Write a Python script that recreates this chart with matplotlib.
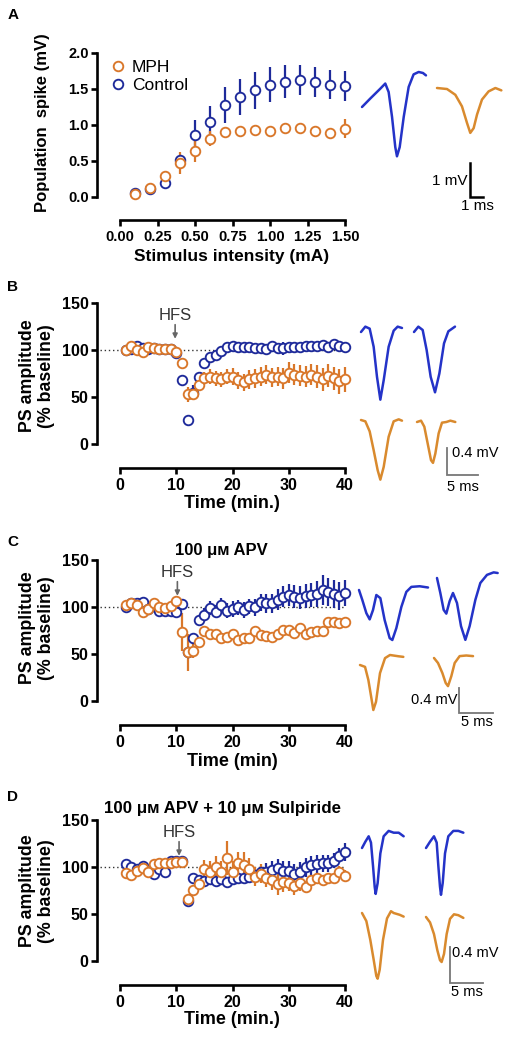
import numpy as np
import matplotlib
matplotlib.use('Agg')
import matplotlib.pyplot as plt
from matplotlib.lines import Line2D

plt.rcParams['font.family'] = ['Liberation Sans', 'DejaVu Sans']

W, H = 511, 1040
ORANGE = '#D9772A'
NAVY = '#1E2A9A'
TR_BLUE = '#2433C8'
TR_ORANGE = '#D98A2E'

# ---- panel A: input/output curve ----
intensity = [0.1, 0.2, 0.3, 0.4, 0.5, 0.6, 0.7, 0.8, 0.9, 1.0, 1.1, 1.2, 1.3, 1.4, 1.5]
a_mph = [0.04, 0.12, 0.29, 0.47, 0.64, 0.81, 0.90, 0.92, 0.93, 0.91, 0.96, 0.96, 0.92, 0.89, 0.95]
a_mph_err = [0.03, 0.03, 0.06, 0.15, 0.15, 0.10, 0.07, 0.04, 0.04, 0.03, 0.04, 0.04, 0.06, 0.07, 0.13]
a_ctl = [0.05, 0.11, 0.19, 0.52, 0.86, 1.04, 1.28, 1.39, 1.48, 1.56, 1.60, 1.63, 1.60, 1.56, 1.54]
a_ctl_err = [0.02, 0.02, 0.02, 0.05, 0.21, 0.22, 0.25, 0.25, 0.26, 0.24, 0.23, 0.21, 0.21, 0.20, 0.21]

# ---- panels B-D: time courses ----
time_min = list(range(1, 41))

b_ctl = [100, 101, 104, 102, 101, 102, 101, 101, 101, 97, 68, 26, 55, 72, 86, 93, 95, 99, 103, 104,
         103, 103, 103, 102, 102, 101, 104, 102, 102, 103, 103, 103, 104, 104, 104, 105, 103, 107, 104, 103]
b_ctl_err = [2, 2, 2, 2, 2, 2, 2, 2, 2, 2, 3, 2, 8, 4, 4, 5, 5, 5, 3, 3,
             3, 3, 3, 3, 3, 3, 3, 3, 7, 3, 3, 3, 3, 3, 3, 3, 3, 3, 3, 3]
b_mph = [100, 104, 100, 98, 103, 102, 101, 101, 101, 98, 86, 53, 54, 63, 70, 72, 70, 69, 72, 72,
         68, 66, 69, 70, 72, 74, 71, 72, 70, 76, 74, 73, 72, 74, 72, 69, 73, 70, 67, 69]
b_mph_err = [2, 2, 2, 2, 2, 2, 2, 2, 2, 2, 5, 8, 6, 6, 7, 8, 8, 8, 8, 9,
             9, 9, 10, 10, 10, 10, 10, 10, 11, 11, 11, 11, 11, 11, 12, 12, 12, 12, 13, 13]

c_ctl = [100, 104, 104, 105, 98, 101, 96, 96, 96, 95, 103, 52, 67, 86, 92, 99, 95, 102, 96, 98,
         100, 97, 101, 100, 105, 104, 104, 108, 111, 113, 111, 110, 112, 113, 114, 118, 116, 114, 112, 115]
c_ctl_err = [2, 2, 2, 2, 2, 2, 2, 2, 2, 2, 3, 3, 3, 5, 7, 7, 7, 8, 8, 8,
             8, 8, 8, 9, 9, 10, 10, 11, 11, 12, 12, 12, 13, 13, 14, 16, 15, 15, 15, 14]
c_mph = [102, 104, 102, 95, 98, 104, 100, 99, 101, 106, 74, 52, 54, 63, 75, 72, 71, 67, 68, 72,
         65, 67, 67, 75, 70, 69, 68, 71, 76, 76, 73, 78, 72, 74, 75, 75, 84, 84, 83, 84]
c_mph_err = [2, 2, 2, 2, 2, 2, 2, 2, 2, 2, 20, 20, 8, 3, 3, 4, 4, 6, 4, 4,
             3, 3, 3, 3, 3, 3, 3, 3, 3, 3, 3, 3, 3, 3, 3, 3, 3, 3, 3, 3]

d_ctl = [103, 100, 98, 101, 97, 93, 98, 95, 106, 106, 106, 64, 88, 86, 85, 87, 85, 87, 84, 87,
         88, 88, 90, 92, 95, 95, 97, 99, 96, 96, 93, 95, 100, 102, 103, 104, 104, 107, 112, 116]
d_ctl_err = [2, 2, 2, 2, 2, 2, 2, 2, 2, 2, 2, 3, 3, 4, 5, 5, 5, 5, 5, 6,
             6, 6, 6, 6, 6, 9, 9, 10, 10, 10, 10, 10, 10, 10, 10, 9, 9, 8, 8, 10]
d_mph = [94, 92, 96, 99, 95, 103, 104, 104, 104, 105, 105, 66, 76, 82, 98, 95, 100, 95, 110, 95,
         104, 102, 98, 90, 93, 89, 86, 82, 84, 83, 80, 83, 79, 86, 88, 86, 88, 88, 95, 91]
d_mph_err = [2, 2, 2, 2, 2, 2, 2, 2, 2, 2, 2, 3, 4, 5, 10, 12, 12, 12, 18, 12,
             12, 14, 12, 10, 10, 10, 10, 12, 10, 8, 10, 8, 6, 6, 6, 6, 6, 6, 6, 6]

# ---- example traces (ms, mV relative to trace start) ----
a_tr_ctl_t = [0, 0.64, 1.41, 1.79, 2.05, 2.31, 2.56, 2.69, 2.90, 3.21, 3.59, 3.97, 4.36, 4.69, 4.92]
a_tr_ctl_v = [0, 0.25, 0.54, 0.69, 0.44, -0.29, -1.18, -1.45, -1.18, -0.29, 0.59, 0.96, 1.03, 1.00, 0.93]
a_tr_mph_t = [0, 0.77, 1.41, 1.92, 2.31, 2.56, 2.82, 3.08, 3.46, 3.97, 4.49, 4.95]
a_tr_mph_v = [0, -0.03, -0.20, -0.54, -1.03, -1.32, -1.18, -0.78, -0.34, -0.10, 0, -0.07]

b_tr_ctl1_t = [0, 0.70, 1.40, 2.04, 2.58, 3.12, 3.66, 4.46, 5.27, 5.91, 6.61]
b_tr_ctl1_v = [0, 0.08, 0.05, -0.22, -0.67, -1.01, -0.72, -0.22, 0.02, 0.08, 0.06]
b_tr_ctl2_t = [0, 0.70, 1.40, 2.04, 2.69, 3.39, 4.09, 4.84, 5.54, 6.61]
b_tr_ctl2_v = [0, 0.08, 0.03, -0.27, -0.67, -0.90, -0.62, -0.17, 0.01, 0.08]
b_tr_mph1_t = [0, 0.70, 1.40, 2.04, 2.69, 3.12, 3.66, 4.46, 5.27, 6.08, 6.61]
b_tr_mph1_v = [0, -0.02, -0.17, -0.45, -0.75, -0.89, -0.70, -0.25, -0.02, 0.01, -0.01]
b_tr_mph2_t = [0, 0.65, 1.18, 1.72, 2.26, 2.58, 2.96, 3.49, 4.03, 4.73, 5.38, 6.18]
b_tr_mph2_v = [0, 0.02, -0.07, -0.32, -0.57, -0.61, -0.47, -0.17, -0.01, 0, 0.02, 0]

c_tr_ctl1_t = [0, 0.49, 1.08, 1.57, 2.06, 2.55, 3.14, 3.77, 4.51, 4.90, 5.49, 6.23, 6.96, 7.70, 8.92, 10.15]
c_tr_ctl1_v = [0, -0.16, -0.37, -0.47, -0.32, -0.08, -0.13, -0.48, -0.77, -0.80, -0.61, -0.27, -0.03, 0.05, 0.06, 0.04]
c_tr_ctl2_t = [0, 0.49, 0.98, 1.37, 1.86, 2.35, 2.94, 3.53, 4.17, 4.80, 5.64, 6.37, 7.35, 8.33, 8.92]
c_tr_ctl2_v = [0, -0.24, -0.51, -0.57, -0.37, -0.24, -0.40, -0.77, -0.99, -0.77, -0.35, -0.08, 0.05, 0.09, 0.08]
c_tr_mph1_t = [0, 0.74, 1.23, 1.72, 1.96, 2.35, 2.94, 3.68, 4.41, 5.64, 6.37]
c_tr_mph1_v = [0, -0.03, -0.24, -0.56, -0.72, -0.59, -0.13, 0.11, 0.16, 0.14, 0.13]
c_tr_mph2_t = [0, 0.59, 1.23, 1.72, 2.06, 2.55, 3.04, 3.77, 4.75, 5.74]
c_tr_mph2_v = [0, -0.08, -0.24, -0.40, -0.45, -0.29, -0.08, 0.03, 0.04, 0.03]

d_tr_ctl1_t = [0, 0.51, 1.01, 1.36, 1.67, 1.92, 2.07, 2.37, 2.78, 3.28, 4.04, 4.80, 5.56, 6.31]
d_tr_ctl1_v = [0, 0.07, 0.13, 0.06, -0.20, -0.43, -0.51, -0.39, -0.06, 0.13, 0.19, 0.17, 0.17, 0.13]
d_tr_ctl2_t = [0, 0.61, 1.21, 1.62, 1.87, 2.12, 2.27, 2.53, 2.88, 3.38, 4.14, 4.90, 5.66]
d_tr_ctl2_v = [0, 0.07, 0.13, 0.06, -0.20, -0.43, -0.52, -0.39, -0.06, 0.13, 0.19, 0.19, 0.17]
d_tr_mph1_t = [0, 0.66, 1.26, 1.77, 2.17, 2.37, 2.68, 3.18, 3.79, 4.39, 4.80, 5.71, 6.31]
d_tr_mph1_v = [0, -0.09, -0.30, -0.52, -0.70, -0.73, -0.63, -0.30, -0.06, 0.02, 0, -0.02, -0.04]
d_tr_mph2_t = [0, 0.61, 1.21, 1.72, 2.12, 2.37, 2.73, 3.13, 3.64, 4.24, 4.90, 5.66]
d_tr_mph2_v = [0, -0.06, -0.19, -0.37, -0.48, -0.50, -0.41, -0.19, -0.02, 0.03, 0.02, -0.01]


fig = plt.figure(figsize=(W / 100, H / 100), dpi=100)


def fx(px):
    return px / W


def fy(py):
    return 1 - py / H


def px_axes(left, top, right, bottom):
    return fig.add_axes([left / W, 1 - bottom / H, (right - left) / W, (bottom - top) / H])


def style(ax, size):
    for s in ['top', 'right']:
        ax.spines[s].set_visible(False)
    for s in ['left', 'bottom']:
        ax.spines[s].set_linewidth(1.9)
    ax.tick_params(width=1.9, length=4, labelsize=size)
    ax.tick_params(axis='y', pad=2)
    ax.tick_params(axis='x', pad=3)


def bold_ticks(ax):
    for lbl in ax.get_xticklabels() + ax.get_yticklabels():
        lbl.set_fontweight('bold')


def eb(ax, x, y, err, color):
    ax.errorbar(x, y, yerr=err, fmt='o', ms=6.9, mfc='white', mec=color, mew=1.35,
                ecolor=color, elinewidth=1.6, capsize=0, clip_on=False)


# ---- panel A ----
axA = px_axes(97, 53, 352, 220)
style(axA, 10.5)
axA.set_xlim(-23 / 150, 232 / 150)
axA.set_ylim(2.0 - 167 / 72, 2.0)
axA.spines['left'].set_bounds(0, 2)
axA.spines['bottom'].set_bounds(0, 1.5)
axA.set_yticks([0, 0.5, 1.0, 1.5, 2.0])
axA.set_yticklabels(['0.0', '0.5', '1.0', '1.5', '2.0'])
axA.set_xticks([0, 0.25, 0.5, 0.75, 1.0, 1.25, 1.5])
axA.set_xticklabels(['0.00', '0.25', '0.50', '0.75', '1.00', '1.25', '1.50'])
bold_ticks(axA)
eb(axA, intensity, a_ctl, a_ctl_err, NAVY)
eb(axA, intensity, a_mph, a_mph_err, ORANGE)
handles = [Line2D([], [], ls='none', marker='o', ms=6.9, mfc='white', mec=ORANGE, mew=1.35),
           Line2D([], [], ls='none', marker='o', ms=6.9, mfc='white', mec=NAVY, mew=1.35)]
axA.legend(handles, ['MPH', 'Control'], loc='upper left', bbox_to_anchor=(0.0, 1.02),
           frameon=False, fontsize=12.5, handletextpad=0.2, handlelength=1.2,
           borderaxespad=0.2, labelspacing=0.15)

# ---- panels B-D ----
time_panels = [
    (303, b_ctl, b_ctl_err, b_mph, b_mph_err, 9.8),
    (560, c_ctl, c_ctl_err, c_mph, c_mph_err, 10.2),
    (820, d_ctl, d_ctl_err, d_mph, d_mph_err, 10.5),
]
for top, ctl, ctl_err, mph, mph_err, hfs_x in time_panels:
    ax = px_axes(97, top, 352, top + 165)
    style(ax, 11.5)
    ax.set_xlim(-23 / 5.625, 232 / 5.625)
    ax.set_ylim(-25, 150)
    ax.spines['left'].set_bounds(0, 150)
    ax.spines['bottom'].set_bounds(0, 40)
    ax.set_yticks([0, 50, 100, 150])
    ax.set_xticks([0, 10, 20, 30, 40])
    bold_ticks(ax)
    ax.plot([-3.5, 40], [100, 100], ls=(0, (1, 2)), color='#333333', lw=1, zorder=0)
    eb(ax, time_min, ctl, ctl_err, NAVY)
    eb(ax, time_min, mph, mph_err, ORANGE)
    ax.annotate('', xy=(hfs_x, 112), xytext=(hfs_x, 127),
                arrowprops=dict(arrowstyle='-|>', color='#666666', lw=1.2, mutation_scale=7,
                                shrinkA=0, shrinkB=0))
    ax.text(hfs_x, 137, 'HFS', ha='center', va='center', fontsize=12, color='#333333')

# ---- axis labels, titles, panel letters ----
fig.text(fx(43), fy(123), 'Population  spike (mV)', rotation=90, ha='center', va='center',
         fontsize=12, fontweight='bold')
for yc in [376, 628, 891]:
    fig.text(fx(37), fy(yc), 'PS amplitude\n(% baseline)', rotation=90, ha='center',
             va='center', fontsize=12.8, fontweight='bold', linespacing=1.1)
fig.text(fx(232), fy(257), 'Stimulus intensity (mA)', ha='center', va='center',
         fontsize=12.5, fontweight='bold')
for yc, lab in [(503, 'Time (min.)'), (762, 'Time (min)'), (1020, 'Time (min.)')]:
    fig.text(fx(232), fy(yc), lab, ha='center', va='center', fontsize=13, fontweight='bold')
fig.text(fx(221), fy(551), '100 μᴍ APV', ha='center', va='center', fontsize=12,
         fontweight='bold')
fig.text(fx(222), fy(808), '100 μᴍ APV + 10 μᴍ Sulpiride', ha='center', va='center',
         fontsize=12.2, fontweight='bold')
for lab, yc in [('A', 15), ('B', 287), ('C', 542), ('D', 797)]:
    fig.text(fx(13), fy(yc), lab, ha='center', va='center', fontsize=11, fontweight='bold')


# ---- traces ----
def trace_axes(left, top, width, height, px_ms, px_mv):
    ax = fig.add_axes([left / W, 1 - (top + height) / H, width / W, height / H])
    ax.set_xlim(0, width / px_ms)
    ax.set_ylim(-height / px_mv, 0)
    ax.axis('off')
    return ax, left, top, px_ms, px_mv


def put_trace(tax, px, py, t, v, color):
    ax, left, top, pms, pmv = tax
    t0 = (px - left) / pms
    v0 = -(py - top) / pmv
    ax.plot(np.array(t) + t0, np.array(v) + v0, color=color, lw=1.8,
            solid_joinstyle='round', solid_capstyle='round')


def scale_bar(tax, px, py, ms, mv, color, lw):
    ax, left, top, pms, pmv = tax
    t0 = (px - left) / pms
    v0 = -(py - top) / pmv
    ax.plot([t0, t0, t0 + ms], [v0 + mv, v0, v0], color=color, lw=lw,
            solid_joinstyle='miter')


tA = trace_axes(350, 55, 161, 165, 13, 34)
put_trace(tA, 362, 107, a_tr_ctl_t, a_tr_ctl_v, TR_BLUE)
put_trace(tA, 437, 88, a_tr_mph_t, a_tr_mph_v, TR_ORANGE)
scale_bar(tA, 470, 197, 1, 1, 'black', 1.8)
fig.text(fx(467), fy(181), '1 mV', ha='right', va='center', fontsize=11)
fig.text(fx(477), fy(206), '1 ms', ha='center', va='center', fontsize=11)

tB = trace_axes(350, 300, 161, 200, 6.2, 67)
put_trace(tB, 361, 332, b_tr_ctl1_t, b_tr_ctl1_v, TR_BLUE)
put_trace(tB, 414, 332, b_tr_ctl2_t, b_tr_ctl2_v, TR_BLUE)
put_trace(tB, 361, 420, b_tr_mph1_t, b_tr_mph1_v, TR_ORANGE)
put_trace(tB, 417, 422, b_tr_mph2_t, b_tr_mph2_v, TR_ORANGE)
scale_bar(tB, 447, 475, 5, 0.4, '#777777', 1.3)
fig.text(fx(452), fy(453), '0.4 mV', ha='left', va='center', fontsize=10.5)
fig.text(fx(463), fy(487), '5 ms', ha='center', va='center', fontsize=10.5)

tC = trace_axes(350, 560, 161, 180, 6.8, 62.5)
put_trace(tC, 359, 590, c_tr_ctl1_t, c_tr_ctl1_v, TR_BLUE)
put_trace(tC, 437, 578, c_tr_ctl2_t, c_tr_ctl2_v, TR_BLUE)
put_trace(tC, 360, 665, c_tr_mph1_t, c_tr_mph1_v, TR_ORANGE)
put_trace(tC, 434, 658, c_tr_mph2_t, c_tr_mph2_v, TR_ORANGE)
scale_bar(tC, 459, 713, 5, 0.4, '#777777', 1.3)
fig.text(fx(457), fy(700), '0.4 mV', ha='right', va='center', fontsize=10.5)
fig.text(fx(477), fy(722), '5 ms', ha='center', va='center', fontsize=10.5)

tD = trace_axes(350, 820, 161, 180, 6.6, 90)
put_trace(tD, 362, 848, d_tr_ctl1_t, d_tr_ctl1_v, TR_BLUE)
put_trace(tD, 426, 848, d_tr_ctl2_t, d_tr_ctl2_v, TR_BLUE)
put_trace(tD, 362, 913, d_tr_mph1_t, d_tr_mph1_v, TR_ORANGE)
put_trace(tD, 426, 917, d_tr_mph2_t, d_tr_mph2_v, TR_ORANGE)
scale_bar(tD, 450, 983, 5, 0.4, '#777777', 1.3)
fig.text(fx(452), fy(953), '0.4 mV', ha='left', va='center', fontsize=10.5)
fig.text(fx(467), fy(992), '5 ms', ha='center', va='center', fontsize=10.5)

fig.savefig('out.png', dpi=100)
